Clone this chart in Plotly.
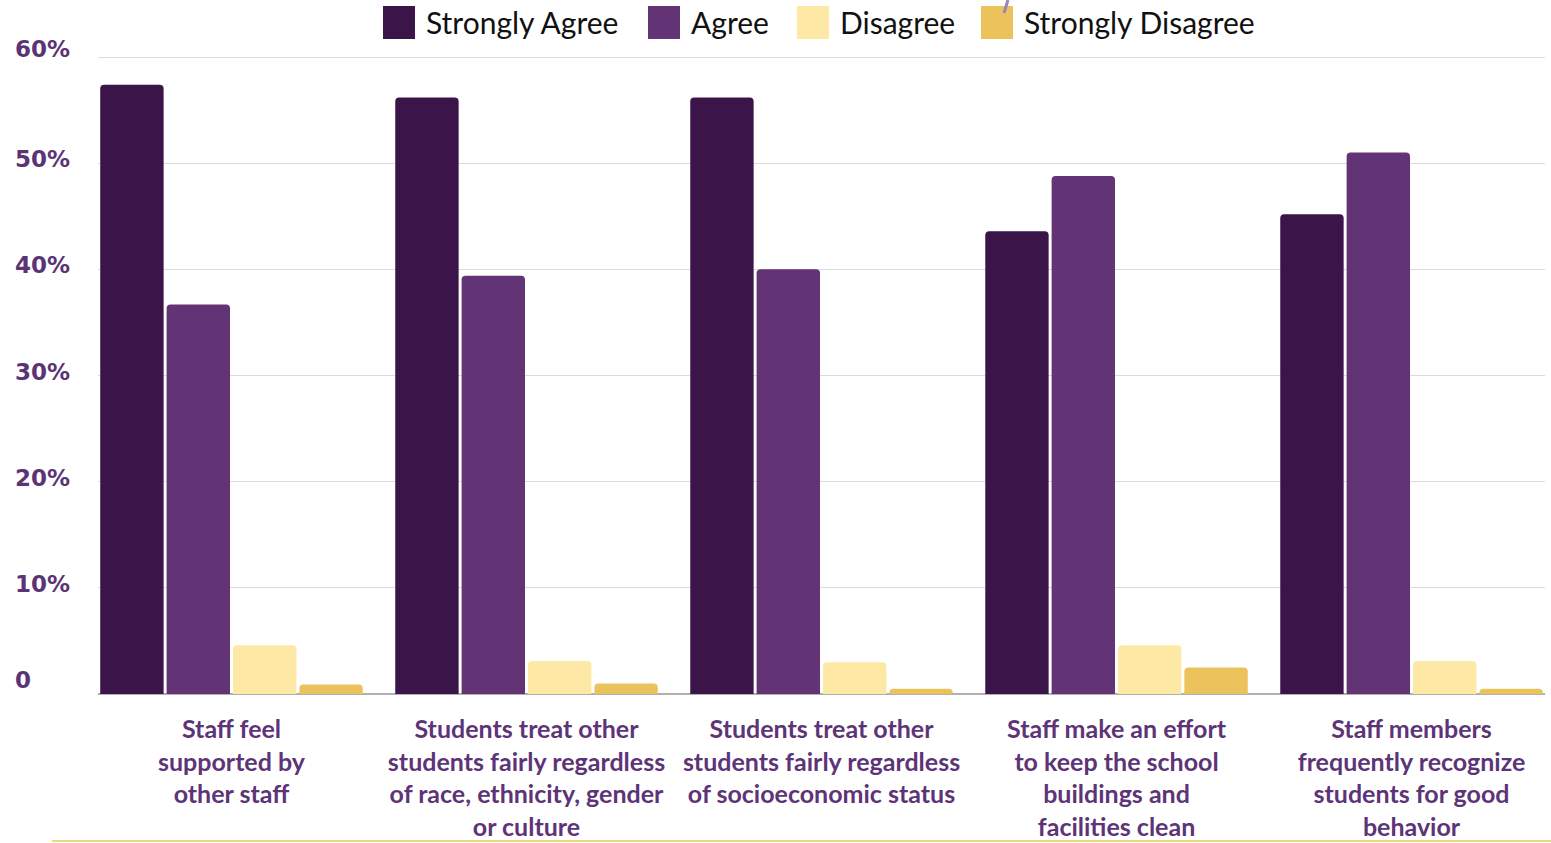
import plotly.graph_objects as go

# ---------------- data ----------------
categories = [
    "Staff feel<br>supported by<br>other staff",
    "Students treat other<br>students fairly regardless<br>of race, ethnicity, gender<br>or culture",
    "Students treat other<br>students fairly regardless<br>of socioeconomic status",
    "Staff make an effort<br>to keep the school<br>buildings and<br>facilities clean",
    "Staff members<br>frequently recognize<br>students for good<br>behavior",
]
series_names = ["Strongly Agree", "Agree", "Disagree", "Strongly Disagree"]
strongly_agree = [57.4, 56.2, 56.2, 43.6, 45.2]
agree = [36.7, 39.4, 40.0, 48.8, 51.0]
disagree = [4.6, 3.1, 3.0, 4.6, 3.1]
strongly_disagree = [0.9, 1.0, 0.5, 2.5, 0.5]
y_ticks = [0, 10, 20, 30, 40, 50, 60]
y_tick_labels = ["0", "10%", "20%", "30%", "40%", "50%", "60%"]

colors = ["#3B144A", "#623375", "#FDE9A5", "#ECC25C"]
values = [strongly_agree, agree, disagree, strongly_disagree]

# ---------------- layout geometry ----------------
W, H = 1551, 843
PL, PR, PT, PB = 98, 1545, 56, 694   # plot area in pixels
Y_MAX = 60.1


def px2x(px):
    return (px - PL) / (PR - PL)


def py2y(py):
    return (PB - py) / (PB - PT)


fig = go.Figure()
xs = list(range(len(categories)))
for name, vals, col in zip(series_names, values, colors):
    fig.add_trace(go.Bar(
        x=xs, y=vals, name=name, marker=dict(color=col, line=dict(width=0), cornerradius=4),
        showlegend=False, hovertemplate="%{y}%<extra>" + name + "</extra>",
    ))

shapes = []
annotations = []

# manual legend (large swatches)
legend_swatch_px = [383, 648, 797, 981]
for name, col, sx in zip(series_names, colors, legend_swatch_px):
    shapes.append(dict(type="rect", xref="paper", yref="paper",
                       x0=px2x(sx), x1=px2x(sx + 32), y0=py2y(39), y1=py2y(6),
                       fillcolor=col, line=dict(width=0)))
    annotations.append(dict(text=name, xref="paper", yref="paper",
                            x=px2x(sx + 41), y=py2y(22), xanchor="left", yanchor="middle",
                            showarrow=False, font=dict(family="Lato", size=30, color="#111111")))

# small purple stroke near the last swatch
shapes.append(dict(type="line", xref="paper", yref="paper",
                   x0=px2x(1004), x1=px2x(1008), y0=py2y(13), y1=py2y(0),
                   line=dict(color="#9E83B8", width=3)))

# y tick labels (left aligned)
for v, lab in zip(y_ticks, y_tick_labels):
    annotations.append(dict(text=lab, xref="paper", yref="y", x=px2x(13), y=v,
                            xanchor="left", yanchor="middle",
                            yshift=14 if v == 0 else (8 if v == 60 else 4),
                            showarrow=False,
                            font=dict(family="DejaVu Sans", size=23, color="#5B3476", weight="bold")))

# golden line at bottom
shapes.append(dict(type="line", xref="paper", yref="paper",
                   x0=px2x(52), x1=px2x(1551), y0=py2y(841), y1=py2y(841),
                   line=dict(color="#EAC85C", width=1.5)))

fig.update_layout(
    width=W, height=H,
    margin=dict(l=PL, r=W - PR, t=PT, b=H - PB, pad=0),
    paper_bgcolor="white", plot_bgcolor="white",
    barmode="group", bargap=0.1, bargroupgap=0.045,
    shapes=shapes, annotations=annotations,
    xaxis=dict(
        tickmode="array", tickvals=xs, ticktext=categories, automargin=False,
        range=[-0.4525, 4.4525], showgrid=False, zeroline=False,
        showline=False, ticks="", ticklabelstandoff=18,
        tickfont=dict(family="Lato", size=25, color="#5C3477", weight="bold"),
    ),
    yaxis=dict(
        range=[0, Y_MAX], tickvals=y_ticks, showticklabels=False, automargin=False,
        showgrid=True, gridcolor="#DCDCDC", gridwidth=1,
        zeroline=True, zerolinecolor="#B0B0B0", zerolinewidth=1.5,
        showline=False,
    ),
)

fig.write_html("out.html", config={"displayModeBar": False},
               post_script="document.body.style.margin='0';document.body.style.overflow='hidden';")
